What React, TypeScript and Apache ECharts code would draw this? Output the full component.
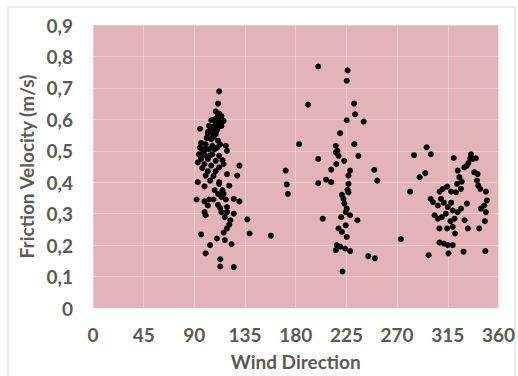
import React, { useEffect, useRef } from "react";
import * as echarts from "echarts";

// [wind direction (deg), friction velocity (m/s)]
const cluster1: number[][] = [
  [112, 0.689], [111, 0.65], [112, 0.618], [114, 0.61], [110, 0.605], [113, 0.595], [116, 0.595],
  [109, 0.59], [105, 0.597], [103, 0.579], [107, 0.576], [111, 0.574], [114, 0.579], [95, 0.57],
  [106, 0.558], [102, 0.553], [109, 0.553], [105, 0.537], [111, 0.532], [100, 0.521], [106, 0.516],
  [118, 0.516], [97, 0.505], [103, 0.505], [110, 0.51], [119, 0.5], [94, 0.489], [99, 0.487],
  [106, 0.489], [112, 0.484], [96, 0.474], [102, 0.474], [109, 0.468], [116, 0.458], [93, 0.463],
  [99, 0.458], [105, 0.453], [112, 0.447], [130, 0.453], [102, 0.435], [109, 0.435], [119, 0.426],
  [128, 0.421], [100, 0.421], [93, 0.4], [104, 0.405], [112, 0.4], [99, 0.387], [112, 0.395],
  [121, 0.389], [111, 0.363], [116, 0.363], [114, 0.353], [92, 0.345], [99, 0.339], [103, 0.345],
  [107, 0.345], [125, 0.347], [130, 0.339], [102, 0.326], [111, 0.328], [119, 0.321], [99, 0.305],
  [114, 0.305], [119, 0.305], [125, 0.3], [117, 0.289], [122, 0.279], [100, 0.295], [137, 0.282],
  [119, 0.253], [116, 0.24], [96, 0.234], [139, 0.237], [158, 0.23], [110, 0.221], [117, 0.216],
  [123, 0.203], [104, 0.2], [100, 0.174], [113, 0.155], [113, 0.132], [125, 0.13],
  [108, 0.6], [112, 0.585], [110, 0.565], [104, 0.565], [107, 0.545], [101, 0.54], [98, 0.495],
  [104, 0.485], [108, 0.505], [113, 0.52], [115, 0.47], [97, 0.445], [107, 0.42], [115, 0.375],
  [118, 0.345], [113, 0.318], [121, 0.265], [108, 0.375], [95, 0.51], [96, 0.525], [100, 0.505],
  [102, 0.56], [109, 0.625], [111, 0.612],
];

const cluster2: number[][] = [
  [171, 0.437], [172, 0.393], [173, 0.363], [183, 0.521], [191, 0.647], [200, 0.768], [200, 0.474],
  [200, 0.397], [204, 0.284], [207, 0.408], [211.5, 0.44], [211.5, 0.4], [215.6, 0.516], [217, 0.5],
  [218, 0.484], [216, 0.458], [219.4, 0.556], [223, 0.468], [226, 0.756], [225.3, 0.723],
  [225.3, 0.597], [231.8, 0.65], [232.7, 0.616], [240.3, 0.593], [232, 0.521], [235.6, 0.484],
  [228.3, 0.437], [226.8, 0.421], [226.8, 0.395], [226, 0.376], [221, 0.36], [223.2, 0.332],
  [225.3, 0.316], [224.4, 0.305], [228.3, 0.295], [220.3, 0.289], [234.7, 0.279], [224.4, 0.263],
  [218, 0.253], [221, 0.242], [225.3, 0.226], [216.4, 0.2], [219.4, 0.195], [223.9, 0.189],
  [228.3, 0.181], [215.6, 0.184], [244.4, 0.165], [250.3, 0.158], [221.5, 0.116], [249.7, 0.439],
  [252.4, 0.405], [215.6, 0.495], [226.8, 0.368], [222.4, 0.347],
];

const cluster3: number[][] = [
  [273.3, 0.219], [281.5, 0.37], [285, 0.486], [290, 0.416], [295, 0.429], [296.2, 0.511],
  [300, 0.489], [298, 0.168], [299.8, 0.347], [301.8, 0.337], [307.7, 0.37], [310.6, 0.379],
  [314.4, 0.386], [318, 0.37], [309, 0.347], [311.5, 0.335], [306.2, 0.326], [303.3, 0.295],
  [306.2, 0.284], [309.7, 0.289], [313.3, 0.3], [315, 0.321], [318, 0.335], [319.4, 0.31],
  [323.8, 0.305], [326.7, 0.316], [321, 0.284], [317.4, 0.276], [307.6, 0.253], [314.4, 0.253],
  [319.4, 0.258], [321.4, 0.237], [307.6, 0.208], [311.5, 0.205], [315, 0.2], [319.4, 0.2],
  [315.6, 0.174], [329, 0.179], [320.3, 0.477], [323.8, 0.437], [325.3, 0.416], [323.2, 0.395],
  [322.3, 0.368], [327.4, 0.402], [326.7, 0.379], [329.7, 0.447], [332, 0.332], [329.9, 0.279],
  [332.8, 0.253], [332, 0.453], [335.6, 0.489], [337, 0.474], [340, 0.476], [333.3, 0.461],
  [335, 0.476], [338.5, 0.432], [341.5, 0.426], [340.9, 0.405], [342.1, 0.389], [343.8, 0.379],
  [348.8, 0.37], [349.7, 0.342], [347.4, 0.326], [344.4, 0.316], [348.8, 0.305], [347.9, 0.276],
  [342.9, 0.253], [348.3, 0.181],
];

const yTicks = [0, 0.1, 0.2, 0.3, 0.4, 0.5, 0.6, 0.7, 0.8, 0.9];
const xTicks = [0, 45, 90, 135, 180, 225, 270, 315, 360];

const FONT = "Lato, 'Open Sans', sans-serif";
const GREY = "#595959";

export default function App() {
  const ref = useRef<HTMLDivElement>(null);

  useEffect(() => {
    document.body.style.margin = "0";
    if (!ref.current) return;
    const chart = echarts.init(ref.current, undefined, { renderer: "svg" });
    const points = [...cluster1, ...cluster2, ...cluster3];
    chart.setOption({
      animation: false,
      backgroundColor: "#ffffff",
      graphic: [
        {
          type: "rect",
          shape: { x: 8, y: 7, width: 507, height: 380 },
          style: { fill: "none", stroke: "#d9d9d9", lineWidth: 1 },
          silent: true,
        },
      ],
      grid: {
        left: 93,
        right: 17,
        top: 25,
        bottom: 66,
        show: true,
        backgroundColor: "#e3b4b7",
        borderWidth: 0,
      },
      xAxis: {
        type: "value",
        min: xTicks[0],
        max: xTicks[xTicks.length - 1],
        interval: 45,
        name: "Wind Direction",
        nameLocation: "middle",
        nameGap: 44,
        nameTextStyle: { fontFamily: FONT, fontWeight: "bold", fontSize: 19, color: GREY },
        axisLine: { show: false },
        axisTick: { show: false },
        axisLabel: { fontFamily: FONT, fontWeight: "bold", fontSize: 19, color: GREY, margin: 17 },
        splitLine: { show: true, lineStyle: { color: "rgba(255,255,255,0.3)", width: 1 } },
      },
      yAxis: {
        type: "value",
        min: yTicks[0],
        max: yTicks[yTicks.length - 1],
        interval: 0.1,
        name: "Friction Velocity (m/s)",
        nameLocation: "middle",
        nameGap: 56,
        nameTextStyle: { fontFamily: FONT, fontWeight: "bold", fontSize: 19, color: GREY },
        axisLine: { show: false },
        axisTick: { show: false },
        axisLabel: {
          fontFamily: FONT,
          fontWeight: "bold",
          fontSize: 19,
          color: GREY,
          margin: 20,
          formatter: (v: number) => (v === 0 ? "0" : v.toFixed(1).replace(".", ",")),
        },
        splitLine: { show: true, lineStyle: { color: "rgba(255,255,255,0.3)", width: 1 } },
      },
      series: [
        {
          type: "scatter",
          data: points,
          symbol: "circle",
          symbolSize: 6,
          itemStyle: { color: "#000000", opacity: 1 },
        },
      ],
    });
    return () => chart.dispose();
  }, []);

  return <div ref={ref} style={{ width: 518, height: 376 }} />;
}
